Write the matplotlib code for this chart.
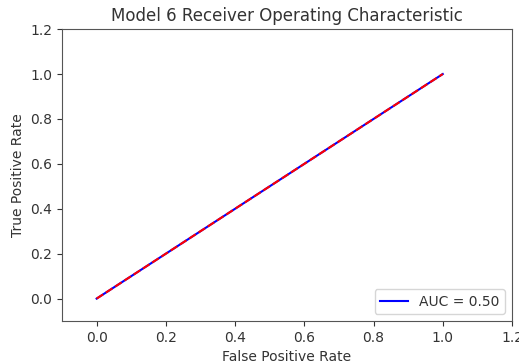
import numpy as np
import matplotlib
matplotlib.use('Agg')
import matplotlib.pyplot as plt

# ROC curve values for model 6 (no skill: diagonal)
fpr = [0.0, 1.0]
tpr = [0.0, 1.0]
roc_auc = 0.50
ticks = [0.0, 0.2, 0.4, 0.6, 0.8, 1.0, 1.2]

plt.rcParams['text.color'] = '#333333'
plt.rcParams['axes.labelcolor'] = '#333333'
plt.rcParams['xtick.color'] = '#333333'
plt.rcParams['ytick.color'] = '#333333'
plt.rcParams['axes.edgecolor'] = '#555555'

fig = plt.figure(figsize=(5.19, 3.64), dpi=100)
ax = fig.add_axes([0.1195, 0.118, 0.867, 0.802])

ax.plot(fpr, tpr, 'b', label='AUC = %0.2f' % roc_auc)
ax.plot([0, 1], [0, 1], 'r--')
ax.legend(loc='lower right')
ax.set_xlim([-0.1, 1.2])
ax.set_ylim([-0.1, 1.2])
ax.set_xticks(ticks)
ax.set_yticks(ticks)
ax.set_title('Model 6 Receiver Operating Characteristic')
ax.set_ylabel('True Positive Rate')
ax.set_xlabel('False Positive Rate')

fig.savefig('out.png', dpi=100)
